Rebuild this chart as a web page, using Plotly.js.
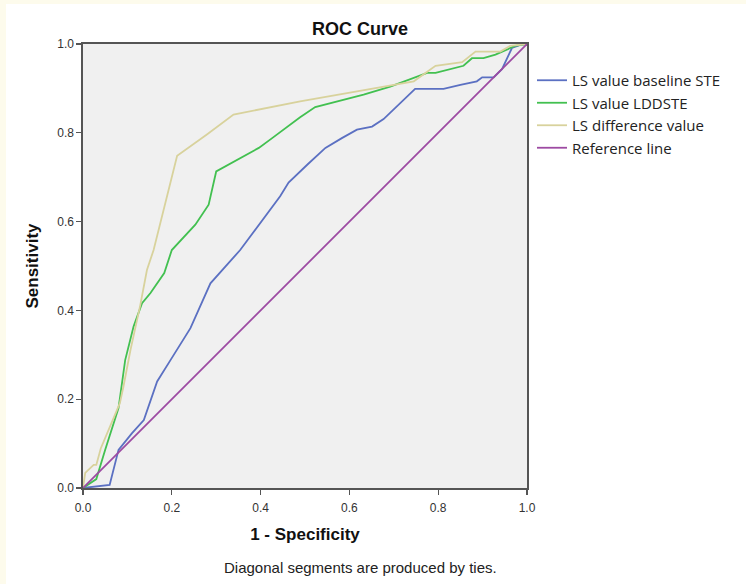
<!DOCTYPE html>
<html>
<head>
<meta charset="utf-8">
<script src="https://cdn.plot.ly/plotly-3.0.1.min.js"></script>
<style>
html,body{margin:0;padding:0;background:#fdfbec;}
#wrap{position:absolute;left:6px;top:4px;width:740px;height:580px;background:#ffffff;}
#chart{position:absolute;left:0px;top:0px;width:746px;height:584px;}
</style>
</head>
<body>
<div id="wrap"></div>
<div id="chart"></div>
<script>
// Series names
const seriesNames = ["LS value baseline STE", "LS value LDDSTE", "LS difference value", "Reference line"];

// LS value baseline STE
const baseX = [0, 0.06, 0.08, 0.11, 0.137, 0.167, 0.197, 0.242, 0.287, 0.354, 0.444, 0.463, 0.505, 0.546, 0.583, 0.617, 0.651, 0.677, 0.748, 0.812, 0.85, 0.887, 0.899, 0.925, 0.944, 0.966, 0.985, 1];
const baseY = [0, 0.007, 0.086, 0.123, 0.153, 0.24, 0.288, 0.36, 0.461, 0.536, 0.657, 0.688, 0.728, 0.766, 0.788, 0.807, 0.814, 0.831, 0.899, 0.899, 0.908, 0.916, 0.925, 0.925, 0.944, 0.991, 0.998, 1];

// LS value LDDSTE
const lddX = [0, 0.03, 0.05, 0.08, 0.095, 0.114, 0.133, 0.152, 0.183, 0.2, 0.253, 0.283, 0.3, 0.347, 0.396, 0.426, 0.489, 0.523, 0.632, 0.692, 0.745, 0.775, 0.794, 0.857, 0.876, 0.902, 0.929, 0.962, 0.974, 0.985, 1];
const lddY = [0, 0.02, 0.086, 0.18, 0.288, 0.364, 0.416, 0.439, 0.484, 0.536, 0.593, 0.638, 0.713, 0.739, 0.766, 0.788, 0.835, 0.858, 0.886, 0.904, 0.923, 0.935, 0.935, 0.951, 0.968, 0.968, 0.976, 0.991, 0.996, 0.998, 1];

// LS difference value
const diffX = [0, 0.005, 0.024, 0.03, 0.04, 0.061, 0.083, 0.091, 0.107, 0.129, 0.144, 0.159, 0.212, 0.279, 0.339, 0.489, 0.595, 0.692, 0.745, 0.794, 0.854, 0.884, 0.94, 0.962, 1];
const diffY = [0, 0.034, 0.052, 0.052, 0.089, 0.138, 0.191, 0.228, 0.311, 0.412, 0.491, 0.536, 0.748, 0.796, 0.841, 0.871, 0.89, 0.908, 0.916, 0.951, 0.959, 0.983, 0.983, 0.996, 1];

// Reference line
const refX = [0, 1];
const refY = [0, 1];

// Tick labels
const tickVals = [0, 0.2, 0.4, 0.6, 0.8, 1.0];
const tickText = ["0.0", "0.2", "0.4", "0.6", "0.8", "1.0"];

const colors = ["#5b70c2", "#42c050", "#d8d29c", "#9d4aa2"];
const xs = [baseX, lddX, diffX, refX];
const ys = [baseY, lddY, diffY, refY];

const traces = seriesNames.map((n, i) => ({
  x: xs[i], y: ys[i], name: n, type: "scatter", mode: "lines",
  line: {color: colors[i], width: 1.8},
  hoverinfo: "skip"
}));

const FONT = "Liberation Sans, Arial, sans-serif";

const axisCommon = {
  range: [0, 1], tickvals: tickVals, ticktext: tickText,
  showgrid: false, zeroline: false, showline: true, mirror: true,
  linecolor: "#555555", linewidth: 1.6,
  ticks: "outside", ticklen: 5, tickwidth: 1.2, tickcolor: "#555555",
  tickfont: {family: FONT, size: 12, color: "#333"},
  fixedrange: true
};

const layout = {
  width: 746, height: 584,
  margin: {l: 83, r: 219, t: 44, b: 96, pad: 0},
  paper_bgcolor: "rgba(0,0,0,0)",
  plot_bgcolor: "#f0f0f0",
  showlegend: true,
  legend: {
    x: 1.0 + (532 - 527) / 444, xanchor: "left",
    y: 1 - (64 - 44) / 444, yanchor: "top",
    bgcolor: "rgba(0,0,0,0)",
    font: {family: "Open Sans, Lato, sans-serif", size: 15, color: "#222"},
    itemwidth: 30, tracegroupgap: 0
  },
  xaxis: Object.assign({}, axisCommon, {
    ticklabelstandoff: 3,
    title: {text: "<b>1 - Specificity</b>", font: {family: FONT, size: 17, color: "#111"}, standoff: 14}
  }),
  yaxis: Object.assign({}, axisCommon, {
    title: {text: "<b>Sensitivity</b>", font: {family: FONT, size: 17, color: "#111"}, standoff: 14}
  }),
  annotations: [
    {text: "<b>ROC Curve</b>", xref: "paper", yref: "paper", x: (360 - 83) / 444, y: 1 + (44 - 29) / 444,
     xanchor: "center", yanchor: "middle", showarrow: false,
     font: {family: FONT, size: 18, color: "#111"}},
    {text: "Diagonal segments are produced by ties.", xref: "paper", yref: "paper", x: (360 - 83) / 444, y: -(567 - 488) / 444,
     xanchor: "center", yanchor: "middle", showarrow: false,
     font: {family: FONT, size: 15, color: "#222"}}
  ]
};

Plotly.newPlot("chart", traces, layout, {displayModeBar: false, staticPlot: true});
</script>
</body>
</html>
